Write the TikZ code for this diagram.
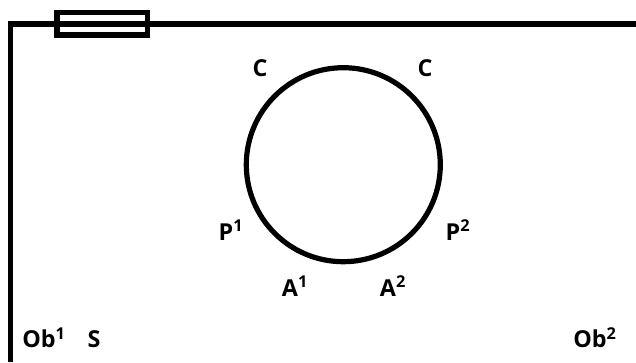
\documentclass[tikz,border=0pt]{standalone}
\usepackage{fontspec}
\setmainfont{Open Sans}
\tikzset{
  wire/.style={line width=3.9pt},
  lbl/.style={font=\bfseries\fontsize{17.5}{20}\selectfont, inner sep=0pt}
}
\newcommand{\sups}[1]{\textsuperscript{#1}}
\begin{document}
\begin{tikzpicture}[x=0.75pt,y=-0.75pt]
        \useasboundingbox (0,0) rectangle (636,362);
        % frame
        \draw[wire] (10.3,362) -- (10.3,24) -- (636,24);
        \draw[wire] (57,12.5) rectangle (147.5,35);
        % ring
        \draw[wire] (343.3,164.7) circle (97);
        \node[lbl] (c1) at (260,68) {C};
        \node[lbl] (c2) at (425,68) {C};
        \node[lbl] (p1) at (231,230) {P\sups{1}};
        \node[lbl] (p2) at (458,230) {P\sups{2}};
        \node[lbl] (a1) at (295,286) {A\sups{1}};
        \node[lbl] (a2) at (393,286) {A\sups{2}};
        \node[lbl] (ob1) at (44,338) {Ob\sups{1}};
        \node[lbl] (s) at (94,339) {S};
        \node[lbl] (ob2) at (595,338) {Ob\sups{2}};
    \end{tikzpicture}
\end{document}
